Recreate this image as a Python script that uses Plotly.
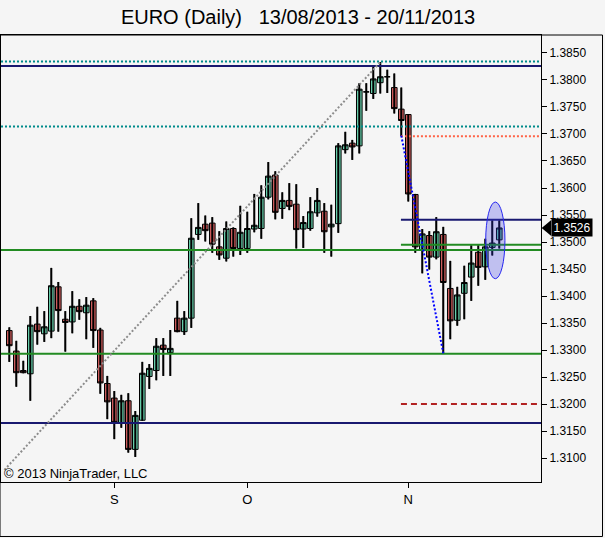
import plotly.graph_objects as go

# ---- data (EURUSD daily bars) ----
opens = [1.3336, 1.3298, 1.3262, 1.3256, 1.3348, 1.3330, 1.3335, 1.3417, 1.3357, 1.3352,
         1.3381, 1.3369, 1.3391, 1.3337, 1.3238, 1.3211, 1.3164, 1.3206, 1.3116, 1.3170,
         1.3251, 1.3262, 1.3309, 1.3295, 1.3359, 1.3334, 1.3359, 1.3514, 1.3533, 1.3535,
         1.3491, 1.3470, 1.3525, 1.3488, 1.3488, 1.3524, 1.3525, 1.3583, 1.3624, 1.3562,
         1.3577, 1.3570, 1.3524, 1.3525, 1.3554, 1.3557, 1.3528, 1.3534, 1.3671, 1.3683,
         1.3678, 1.3778, 1.3775, 1.3795, 1.3806, 1.3786, 1.3746, 1.3736, 1.3588, 1.3486,
         1.3512, 1.3472, 1.3514, 1.3414, 1.3355, 1.3405, 1.3435, 1.3481, 1.3454, 1.3490,
         1.3504]
highs = [1.3342, 1.3317, 1.3280, 1.3363, 1.3380, 1.3372, 1.3452, 1.3426, 1.3372, 1.3409,
         1.3394, 1.3398, 1.3396, 1.3341, 1.3252, 1.3224, 1.3217, 1.3220, 1.3187, 1.3278,
         1.3274, 1.3322, 1.3322, 1.3337, 1.3391, 1.3372, 1.3544, 1.3572, 1.3549, 1.3546,
         1.3520, 1.3538, 1.3527, 1.3567, 1.3556, 1.3589, 1.3605, 1.3648, 1.3631, 1.3592,
         1.3609, 1.3607, 1.3548, 1.3583, 1.3600, 1.3572, 1.3569, 1.3683, 1.3704, 1.3689,
         1.3794, 1.3794, 1.3825, 1.3833, 1.3819, 1.3812, 1.3786, 1.3737, 1.3589, 1.3524,
         1.3520, 1.3546, 1.3528, 1.3465, 1.3417, 1.3456, 1.3494, 1.3494, 1.3506, 1.3540,
         1.3540]
lows = [1.3278, 1.3232, 1.3257, 1.3206, 1.3310, 1.3315, 1.3322, 1.3334, 1.3297, 1.3331,
        1.3356, 1.3320, 1.3304, 1.3219, 1.3172, 1.3135, 1.3156, 1.3110, 1.3102, 1.3169,
        1.3228, 1.3244, 1.3252, 1.3252, 1.3333, 1.3328, 1.3341, 1.3504, 1.3501, 1.3480,
        1.3467, 1.3464, 1.3473, 1.3476, 1.3480, 1.3518, 1.3506, 1.3579, 1.3542, 1.3543,
        1.3559, 1.3488, 1.3489, 1.3521, 1.3547, 1.3480, 1.3473, 1.3517, 1.3664, 1.3652,
        1.3664, 1.3743, 1.3765, 1.3775, 1.3776, 1.3738, 1.3696, 1.3575, 1.3480, 1.3442,
        1.3449, 1.3468, 1.3294, 1.3320, 1.3345, 1.3357, 1.3391, 1.3419, 1.3430, 1.3475,
        1.3488]
closes = [1.3308, 1.3258, 1.3258, 1.3346, 1.3334, 1.3343, 1.3419, 1.3373, 1.3351, 1.3381,
          1.3371, 1.3383, 1.3336, 1.3239, 1.3204, 1.3166, 1.3206, 1.3116, 1.3179, 1.3257,
          1.3266, 1.3307, 1.3301, 1.3303, 1.3334, 1.3359, 1.3507, 1.3527, 1.3521, 1.3496,
          1.3476, 1.3525, 1.3488, 1.3518, 1.3525, 1.3531, 1.3583, 1.3622, 1.3555, 1.3577,
          1.3566, 1.3523, 1.3536, 1.3556, 1.3577, 1.3519, 1.3533, 1.3678, 1.3680, 1.3676,
          1.3783, 1.3778, 1.3802, 1.3806, 1.3806, 1.3747, 1.3725, 1.3589, 1.3491, 1.3515,
          1.3472, 1.3519, 1.3425, 1.3354, 1.3402, 1.3425, 1.3461, 1.3453, 1.3491, 1.3498,
          1.3526]
bars = list(range(len(opens)))

month_ticks = [15, 34, 57]
month_labels = ["S", "O", "N"]

y_ticks = [1.3100, 1.3150, 1.3200, 1.3250, 1.3300, 1.3350, 1.3400, 1.3450, 1.3500,
           1.3550, 1.3600, 1.3650, 1.3700, 1.3750, 1.3800, 1.3850]

# full-width horizontal levels: (price, color, dash)
full_levels = [
    (1.3834, "#008B8B", "2px,2px"),
    (1.3826, "#191970", "solid"),
    (1.3714, "#008B8B", "2px,2px"),
    (1.3485, "#228B22", "solid"),
    (1.3293, "#228B22", "solid"),
    (1.3165, "#191970", "solid"),
]
# partial levels starting at bar 56
partial_start = 56
partial_levels = [
    (1.3696, "#FF6347", "2px,2px"),
    (1.3541, "#191970", "solid"),
    (1.3495, "#228B22", "solid"),
    (1.3200, "#B22222", "6px,4px"),
]
# trend lines: (x0, y0, x1, y1, color)
trend_lines = [
    (-0.7, 1.3078, 53, 1.3833, "#8C8C8C"),
    (56, 1.3697, 62, 1.3294, "#0000FF"),
]
ellipse = (68.06, 1.3432, 70.81, 1.3574)
last_price = 1.3526

x_range = [-1.186, 75.96]
y_range = [1.30556, 1.38833]

font_family = "Liberation Sans, Arial, sans-serif"

fig = go.Figure()

# wicks
wx, wy = [], []
for i, lo, hi in zip(bars, lows, highs):
    wx += [i, i, None]
    wy += [lo, hi, None]
fig.add_trace(go.Scatter(x=wx, y=wy, mode="lines", line=dict(color="black", width=2),
                         hoverinfo="skip", showlegend=False))

fig.add_trace(go.Candlestick(
    x=bars, open=opens, high=highs, low=lows, close=closes,
    increasing=dict(fillcolor="#66CDAA", line=dict(color="black", width=1)),
    decreasing=dict(fillcolor="#CD5C5C", line=dict(color="black", width=1)),
    whiskerwidth=0, showlegend=False, hoverinfo="skip"))

shapes = []
for p, c, d in full_levels:
    shapes.append(dict(type="line", xref="paper", yref="y", x0=0, x1=1, y0=p, y1=p,
                       line=dict(color=c, width=2, dash=d), layer="above"))
for p, c, d in partial_levels:
    shapes.append(dict(type="line", xref="x", yref="y", x0=partial_start - 0.05, x1=x_range[1],
                       y0=p, y1=p, line=dict(color=c, width=2, dash=d), layer="above"))
for x0, y0, x1, y1, c in trend_lines:
    shapes.append(dict(type="line", xref="x", yref="y", x0=x0, y0=y0, x1=x1, y1=y1,
                       line=dict(color=c, width=2, dash="2px,2px"), layer="above"))
shapes.append(dict(type="circle", xref="x", yref="y", x0=ellipse[0], y0=ellipse[1],
                   x1=ellipse[2], y1=ellipse[3], fillcolor="rgba(50,50,230,0.27)",
                   line=dict(color="#2828F0", width=1), layer="above"))

# last price marker (arrow part)
py = (last_price - y_range[0]) / (y_range[1] - y_range[0])
hpx = 8 / 447
shapes.append(dict(type="path", xref="paper", yref="paper",
                   path=f"M 1.0013 {py} L 1.0190 {py + hpx} L 1.0190 {py - hpx} Z",
                   fillcolor="black", line=dict(color="black", width=0), layer="above"))
# outer frame
shapes.append(dict(type="rect", xref="paper", yref="paper", x0=-0.00185, x1=1.1139,
                   y0=-0.1219, y1=1.0, line=dict(color="black", width=1), layer="above"))

annotations = [
    dict(text=f"{last_price:.4f}", xref="paper", yref="paper", x=1.0185, y=py,
         xanchor="left", yanchor="middle", showarrow=False, bgcolor="black",
         font=dict(color="white", size=12, family=font_family), borderpad=1.5),
    dict(text="© 2013 NinjaTrader, LLC", xref="paper", yref="paper", x=0.002, y=0.0179,
         xanchor="left", yanchor="middle", showarrow=False,
         font=dict(color="black", size=13, family=font_family)),
]

fig.update_layout(
    width=605, height=538,
    margin=dict(l=1, r=64, t=35, b=56),
    paper_bgcolor="#F5F5F5", plot_bgcolor="#F5F5F5",
    boxgap=0.2, boxgroupgap=0,
    title=dict(text="EURO (Daily)\u00a0\u00a0\u00a013/08/2013 - 20/11/2013",
               xref="container", yref="container", x=0.4926, y=0.968,
               xanchor="center", yanchor="middle",
               font=dict(size=20, color="black", family=font_family)),
    font=dict(family=font_family, size=12, color="black"),
    shapes=shapes, annotations=annotations,
    hovermode=False,
    xaxis=dict(range=x_range, tickvals=month_ticks, ticktext=month_labels,
               ticks="outside", ticklen=5, tickcolor="black", showgrid=False,
               zeroline=False, showline=True, linecolor="black", linewidth=1, mirror=True,
               rangeslider=dict(visible=False), tickfont=dict(size=13)),
    yaxis=dict(range=y_range, side="right", tickvals=y_ticks,
               ticktext=[f"{v:.4f}" for v in y_ticks],
               ticks="outside", ticklen=5, tickcolor="black", showgrid=False,
               zeroline=False, showline=True, linecolor="black", linewidth=1, mirror=True,
               tickfont=dict(size=12)),
)

fig.write_html("out.html", config={"displayModeBar": False},
               post_script="document.body.style.margin='0';document.body.style.background='#F5F5F5';")
